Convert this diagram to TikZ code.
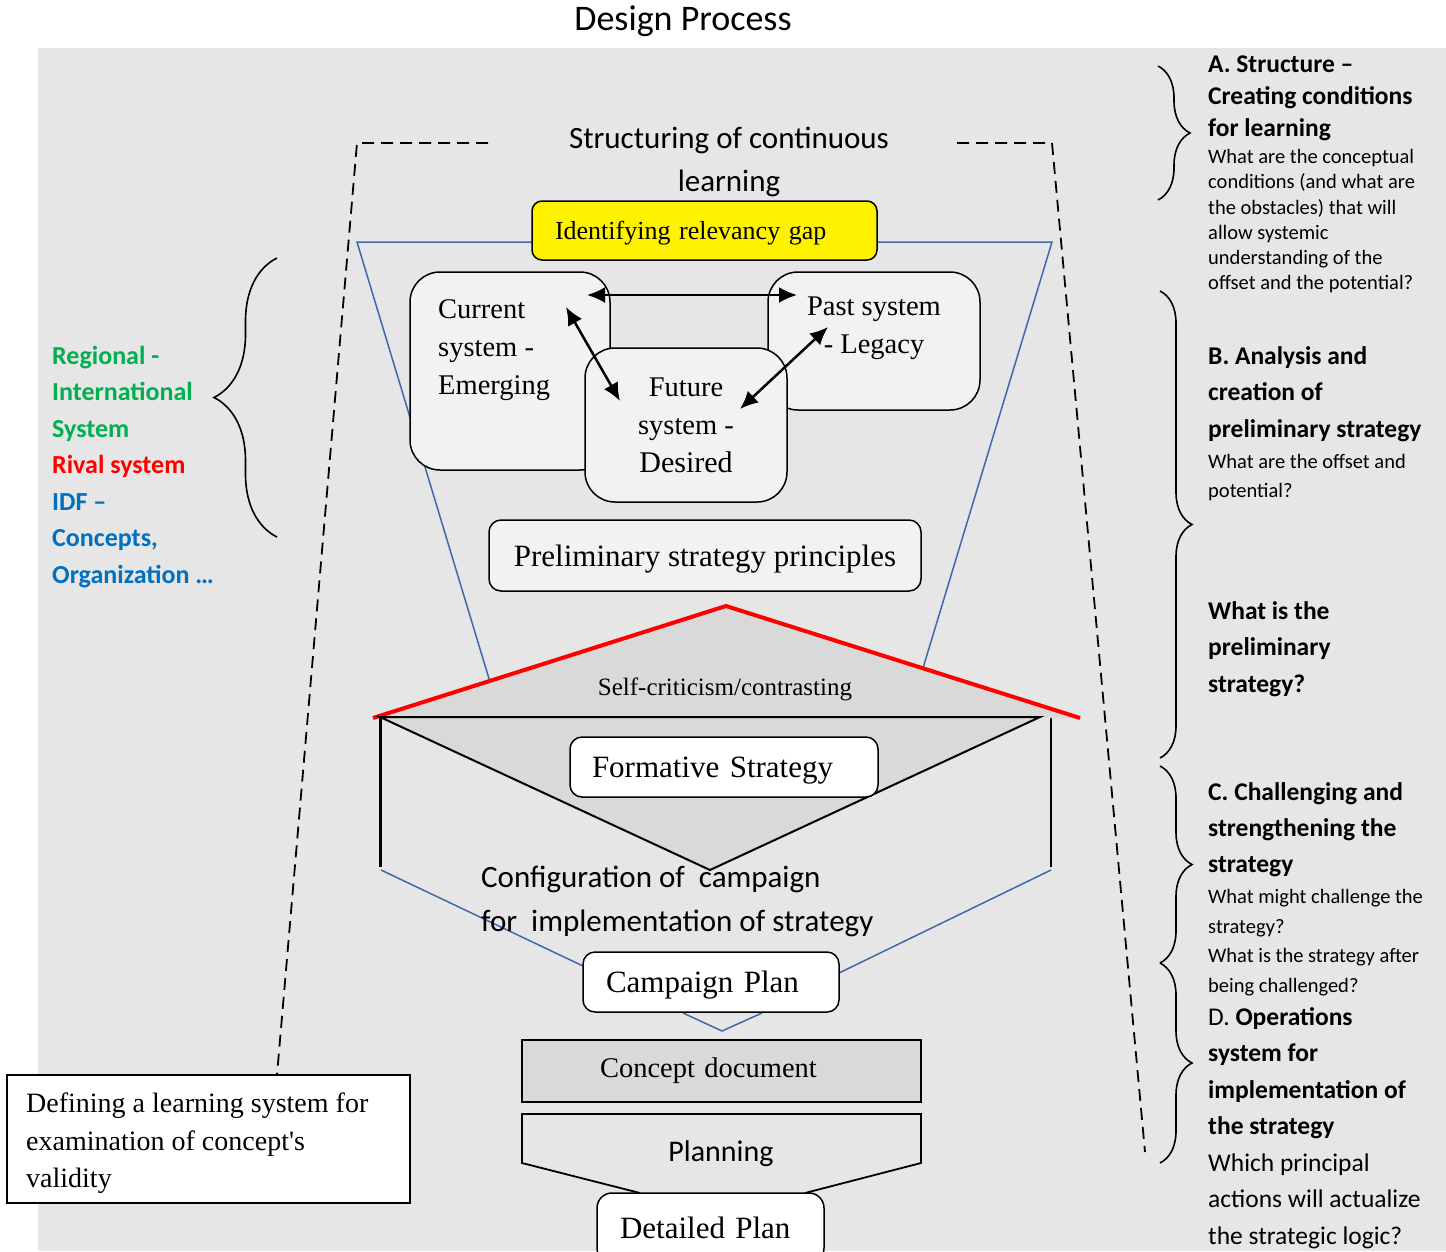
\documentclass[tikz,border=0pt]{standalone}
\usepackage{fontspec}
\setmainfont{Liberation Serif}
\setsansfont{Carlito}
\usetikzlibrary{arrows.meta,positioning,calc,decorations.pathreplacing}
\definecolor{bggray}{RGB}{230,230,230}
\definecolor{boxgray}{RGB}{242,242,242}
\definecolor{trigray}{RGB}{217,217,217}
\definecolor{funnelblue}{RGB}{65,105,170}
\definecolor{txtgreen}{RGB}{0,176,80}
\definecolor{txtblue}{RGB}{0,112,192}
\newcommand{\fs}[2]{\fontsize{#1}{#2}\selectfont}

\begin{document}
\begin{tikzpicture}[x=1pt,y=-1pt,
  sysbox/.style={draw,line width=1.5pt,fill=boxgray,rounded corners=30pt,font=\fs{28.5}{38}},
  systxt/.style={inner sep=0pt,align=left,font=\fs{28.5}{38}},
  plainbox/.style={draw,line width=1.5pt,fill=white,rounded corners=12pt,font=\fs{31}{37},align=left,text depth=0pt},
  funnel/.style={funnelblue,line width=1.5pt},
  guide/.style={dashed,dash pattern=on 12pt off 7pt,line width=1.8pt},
  dblarr/.style={{Latex[length=18pt,width=16pt]}-{Latex[length=18pt,width=16pt]},line width=2.5pt},
  brace/.style={decorate,decoration={brace,amplitude=#1},line width=1.6pt},
  headtxt/.style={anchor=north west,inner sep=0pt,align=left,font=\sffamily\bfseries\fs{25.5}{36.5}},
  bodytxt/.style={anchor=north west,inner sep=0pt,align=left,font=\sffamily\fs{20.5}{29}}
]
  \useasboundingbox (0,0) rectangle (1446,1251);
  \fill[bggray] (38,48) rectangle (1446,1251);

  % title
  \node[font=\sffamily\fs{36}{42}] (title) at (683,21) {Design Process};

  % dashed frame
  \draw[guide] (488,143) -- (357,143) -- (277,1075);
  \draw[guide] (957,143) -- (1052,143) -- (1145,1152);

  % funnel
  \draw[funnel] (490,682) -- (357,242) -- (1052,242) -- (923,668);
  \draw[funnel] (381,870) -- (583,966);
  \draw[funnel] (1051,870) -- (839,973);
  \draw[funnel] (683,1013) -- (722,1031) -- (762,1013);

  \node[font=\sffamily\fs{31}{43},align=center] (struct) at (729,162) {Structuring of continuous\\learning};

  \node[draw,line width=1.5pt,fill=yellow,rounded corners=10pt,minimum width=345pt,minimum height=59pt,
        text width=299pt,inner xsep=23pt,align=left,font=\fs{26}{31},text depth=0pt] (gap) at (704.5,230.5) {Identifying relevancy gap};

  % three systems
  \node[sysbox,minimum width=200pt,minimum height=198pt] (cur) at (510,371) {};
  \node[systxt,anchor=north west] (curtxt) at (438,299) {Current\\system -\\Emerging};
  \node[sysbox,minimum width=212pt,minimum height=138pt] (past) at (874,341) {};
  \node[systxt,align=center] (pasttxt) at (874,328) {Past system\\- Legacy};
  \node[sysbox,minimum width=202pt,minimum height=154pt,align=center] (fut) at (686,425) {Future\\system -\\{\fs{30}{38}Desired}};

  \coordinate (hl) at (587,295);
  \coordinate (hr) at (797,295);
  \coordinate (cl) at (566,307);
  \coordinate (fl) at (620,401);
  \coordinate (pl) at (828,327);
  \coordinate (fr) at (740,409);
  \draw[dblarr] (hl) -- (hr);
  \draw[dblarr] (cl) -- (fl);
  \draw[dblarr] (pl) -- (fr);

  \node[sysbox,rounded corners=12pt,minimum width=432pt,minimum height=71pt,font=\fs{31}{37},text depth=0pt] (prelim) at (705,555.5) {Preliminary strategy principles};

  % contrasting
  \draw[line width=3pt] (380,717) -- (380,867);
  \draw[line width=1.5pt] (1051,717) -- (1051,867);
  \fill[trigray] (373,718) -- (726,606) -- (1080,718) -- cycle;
  \draw[red,line width=4pt,line join=miter] (373,718) -- (726,606) -- (1080,718);
  \node[font=\fs{25}{30}] (self) at (725,689) {Self-criticism/contrasting};
  \draw[line width=2pt,fill=trigray] (380,717) -- (1040,717) -- (710,870) -- cycle;

  \node[plainbox,minimum width=308pt,minimum height=60pt,text width=264pt,inner xsep=22pt] (form) at (724,767) {Formative Strategy};

  \node[anchor=north west,inner sep=0pt,align=left,font=\sffamily\fs{31}{44}] (config) at (481,866) {Configuration of\ \ campaign\\for\ \ implementation of strategy};

  \node[plainbox,minimum width=256pt,minimum height=60pt,text width=210pt,inner xsep=23pt] (camp) at (711,982) {Campaign Plan};

  \node[draw,line width=1.5pt,fill=trigray,minimum width=399pt,minimum height=62pt,text width=243pt,inner xsep=78pt,
        align=left,font=\fs{28.5}{34}] (concept) at (721.5,1071) {Concept document};

  \draw[line width=1.8pt] (640,1193) -- (522,1163) -- (522,1114) -- (921,1114) -- (921,1163) -- (805,1193);
  \node[font=\sffamily\fs{30}{36}] (plan) at (721,1154) {Planning};

  \node[plainbox,rounded corners=15pt,minimum width=227pt,minimum height=70pt,text width=181pt,inner xsep=23pt] (detail) at (710.5,1228) {Detailed Plan};

  \node[draw,line width=1.5pt,fill=white,minimum width=403pt,minimum height=128pt] (learn) at (208.5,1139) {};
  \node[anchor=north west,inner sep=0pt,align=left,font=\fs{28}{37.5}] (learntxt) at (26,1093) {Defining a learning system for\\examination of concept\textquotesingle s\\validity};

  % left side
  \draw[brace=63pt] (277,537) -- (277,258);
  \node[headtxt,font=\sffamily\bfseries\fs{26}{36.5}] (systems) at (52,346) {\textcolor{txtgreen}{Regional -}\\\textcolor{txtgreen}{International}\\\textcolor{txtgreen}{System}\\\textcolor{red}{Rival system}\\\textcolor{txtblue}{IDF –}\\\textcolor{txtblue}{Concepts,}\\\textcolor{txtblue}{Organization …}};

  % right side
  \draw[brace=32pt] (1158,66) -- (1158,200);
  \draw[brace=32pt] (1160,291) -- (1160,758);
  \draw[brace=32pt] (1160,766) -- (1160,963);
  \draw[brace=32pt] (1160,963) -- (1160,1163);

  \node[headtxt,font=\sffamily\bfseries\fs{25.5}{32}] (stageA) at (1208,56) {A. Structure –\\Creating conditions\\for learning};
  \node[bodytxt,font=\sffamily\fs{20.5}{25.3}] (askA) at (1208,149) {What are the conceptual\\conditions (and what are\\the obstacles) that will\\allow systemic\\understanding of the\\offset and the potential?};
  \node[headtxt] (stageB) at (1208,346) {B. Analysis and\\creation of\\preliminary strategy};
  \node[bodytxt] (askB) at (1208,454) {What are the offset and\\potential?};
  \node[headtxt] (askB2) at (1208,601) {What is the\\preliminary\\strategy?};
  \node[headtxt,font=\sffamily\bfseries\fs{25.5}{36}] (stageC) at (1208,782) {C. Challenging and\\strengthening the\\strategy};
  \node[bodytxt,font=\sffamily\fs{20.5}{29.6}] (askC) at (1208,889) {What might challenge the\\strategy?\\What is the strategy after\\being challenged?};
  \node[headtxt] (stageD) at (1208,1007) {\mdseries D. \bfseries Operations\\system for\\implementation of\\the strategy\\\mdseries Which principal\\\mdseries actions will actualize\\\mdseries the strategic logic?};
\end{tikzpicture}
\end{document}
